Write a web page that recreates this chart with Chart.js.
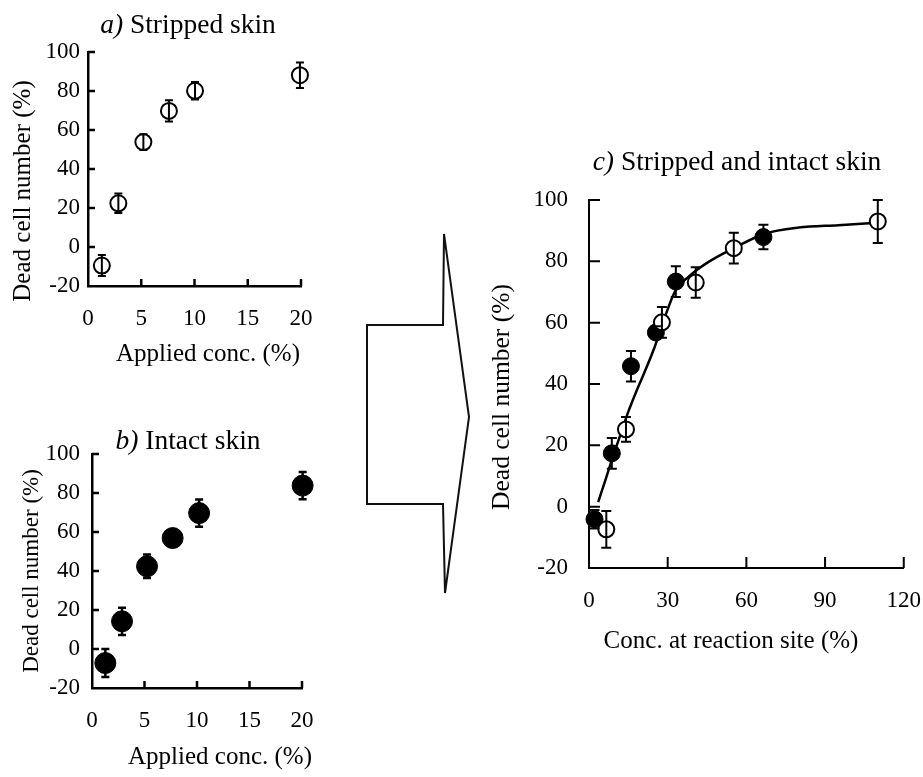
<!DOCTYPE html>
<html>
<head>
<meta charset="utf-8">
<title>Dead cell number vs concentration</title>
<script src="https://cdn.jsdelivr.net/npm/chart.js@4.4.0/dist/chart.umd.min.js"></script>
<style>
  html, body { margin: 0; padding: 0; background: #fff; }
  #page { position: relative; width: 923px; height: 777px; overflow: hidden; background: #fff; }
  #page canvas { position: absolute; }
  #arrow { position: absolute; left: 0; top: 0; }
</style>
</head>
<body>
<div id="page">
  <canvas id="chartA" width="340" height="390" style="left:0px;top:0px"></canvas>
  <canvas id="chartB" width="340" height="387" style="left:0px;top:390px"></canvas>
  <canvas id="chartC" width="460" height="560" style="left:480px;top:140px"></canvas>
  <svg id="arrow" width="923" height="777">
    <polygon points="367,325 443,325 444,234 469,417 445,593 443,504 367,504"
             fill="none" stroke="#111" stroke-width="2" stroke-linejoin="miter"/>
  </svg>
</div>
<script>
// ---- a) stripped skin: applied concentration (%) vs dead cell number (%) ----
const strippedApplied = [1.3, 2.85, 5.2, 7.6, 10.05, 19.9];
const strippedDead    = [-9.5, 22.4, 53.8, 69.8, 80.1, 88.1];
const strippedDeadErr = [5.4, 5, 4, 5.5, 4.5, 6.5];

// ---- b) intact skin ----
const intactApplied = [1.27, 2.86, 5.24, 7.68, 10.2, 20.06];
const intactDead    = [-7.2, 14.2, 42.4, 56.9, 69.7, 83.8];
const intactDeadErr = [7.2, 7, 6, 2, 7, 7];

// ---- c) both, against concentration at the reaction site (%) ----
const intactSite      = [2.1, 8.7, 16.0, 25.5, 33.1, 66.5];
const intactSiteDead  = [-4.1, 17.4, 45.8, 56.8, 73.4, 87.9];
const intactSiteErr   = [3, 5, 5, 2, 5, 4];
const strippedSite     = [6.6, 14.1, 27.8, 40.7, 55.2, 110.1];
const strippedSiteDead = [-7.4, 25.2, 60.1, 73.1, 84.3, 93.0];
const strippedSiteErr  = [6, 4, 5, 5, 5, 7];

// fitted curve through the pooled data
const fitSite = [3.5, 6, 9, 12, 15, 18, 21, 25, 29, 33, 38, 45, 55, 67, 80, 95, 110];
const fitDead = [1.5, 8, 16, 23.5, 31, 37.5, 43.5, 52, 62, 70.5, 75, 79.5, 84.2, 89, 91, 91.8, 92.6];

// axis ticks
const appliedTicks = [0, 5, 10, 15, 20];
const siteTicks    = [0, 30, 60, 90, 120];
const deadTicks    = [-20, 0, 20, 40, 60, 80, 100];

const SERIF = '"Liberation Serif", "Times New Roman", serif';
Chart.defaults.font.family = SERIF;
Chart.defaults.color = '#000';

const pts = (xs, ys) => xs.map((x, i) => ({ x, y: ys[i] }));

// vertical error bars with caps, drawn on top of the markers
const errorBarPlugin = {
  id: 'errorBars',
  afterDatasetsDraw(chart, args, opts) {
    const { ctx } = chart;
    const xs = chart.scales.x, ys = chart.scales.y;
    ctx.save();
    ctx.strokeStyle = '#000';
    ctx.lineWidth = opts.lineWidth || 2;
    chart.data.datasets.forEach(ds => {
      if (!ds.errors) return;
      ds.data.forEach((p, j) => {
        const e = ds.errors[j];
        const px = xs.getPixelForValue(p.x);
        const top = ys.getPixelForValue(p.y + e);
        const bot = ys.getPixelForValue(p.y - e);
        const c = opts.cap || 4;
        ctx.beginPath();
        ctx.moveTo(px, top); ctx.lineTo(px, bot);
        ctx.moveTo(px - c, top); ctx.lineTo(px + c, top);
        ctx.moveTo(px - c, bot); ctx.lineTo(px + c, bot);
        ctx.stroke();
      });
    });
    ctx.restore();
  }
};

// tick marks pointing into the plot area
const innerTickPlugin = {
  id: 'innerTicks',
  afterDraw(chart, args, opts) {
    const { ctx, chartArea: a } = chart;
    const xs = chart.scales.x, ys = chart.scales.y;
    ctx.save();
    ctx.strokeStyle = '#000';
    ctx.lineWidth = opts.width || 2;
    ctx.beginPath();
    xs.ticks.forEach(t => {
      if (t.value === xs.min) return;
      const px = xs.getPixelForValue(t.value);
      ctx.moveTo(px, a.bottom); ctx.lineTo(px, a.bottom - opts.len);
    });
    ys.ticks.forEach(t => {
      if (t.value === ys.min) return;
      const py = ys.getPixelForValue(t.value);
      ctx.moveTo(a.left, py); ctx.lineTo(a.left + opts.len, py);
    });
    ctx.stroke();
    ctx.restore();
  }
};

// panel heading (italic letter + plain text) and the two axis titles
const panelTextPlugin = {
  id: 'panelText',
  afterDraw(chart, args, o) {
    const { ctx } = chart;
    ctx.save();
    ctx.fillStyle = '#000';
    ctx.textBaseline = 'alphabetic';
    const t = o.title;
    ctx.font = `italic ${t.size}px ${SERIF}`;
    const w1 = ctx.measureText(t.prefix).width;
    ctx.font = `${t.size}px ${SERIF}`;
    const w2 = ctx.measureText(t.rest).width;
    let sx = t.x - (w1 + w2) / 2;
    ctx.textAlign = 'left';
    ctx.font = `italic ${t.size}px ${SERIF}`;
    ctx.fillText(t.prefix, sx, t.y);
    ctx.font = `${t.size}px ${SERIF}`;
    ctx.fillText(t.rest, sx + w1, t.y);

    const xt = o.xTitle;
    ctx.textAlign = 'center';
    ctx.font = `${xt.size}px ${SERIF}`;
    ctx.fillText(xt.text, xt.x, xt.y);

    const yt = o.yTitle;
    ctx.translate(yt.x, yt.y);
    ctx.rotate(-Math.PI / 2);
    ctx.textBaseline = 'middle';
    ctx.font = `${yt.size}px ${SERIF}`;
    ctx.fillText(yt.text, 0, 0);
    ctx.restore();
  }
};

function panel(id, p) {
  const canvas = document.getElementById(id);
  const W = canvas.width, H = canvas.height;
  return new Chart(canvas, {
    type: 'scatter',
    data: { datasets: p.datasets },
    options: {
      responsive: false,
      animation: false,
      devicePixelRatio: 1,
      layout: { padding: { top: p.area.top, right: W - p.area.right, left: 0, bottom: 0 } },
      plugins: {
        legend: { display: false },
        tooltip: { enabled: false },
        title: { display: false },
        panelText: p.text,
        errorBars: { lineWidth: p.barWidth, cap: p.cap },
        innerTicks: { len: p.tickLen, width: p.axisWidth }
      },
      scales: {
        x: {
          type: 'linear',
          min: p.xTicks[0], max: p.xTicks[p.xTicks.length - 1],
          afterBuildTicks: s => { s.ticks = p.xTicks.map(v => ({ value: v })); },
          ticks: { font: { size: 23 }, color: '#000', padding: p.xPad, maxRotation: 0, autoSkip: false },
          grid: { display: false, drawTicks: false },
          border: { display: true, color: '#000', width: p.axisWidth },
          afterFit: s => { s.height = H - p.area.bottom; }
        },
        y: {
          type: 'linear',
          min: deadTicks[0], max: deadTicks[deadTicks.length - 1],
          afterBuildTicks: s => { s.ticks = deadTicks.map(v => ({ value: v })); },
          ticks: { font: { size: 23 }, color: '#000', padding: p.yPad, autoSkip: false },
          grid: { display: false, drawTicks: false },
          border: { display: true, color: '#000', width: p.axisWidth },
          afterFit: s => { s.width = p.area.left; }
        }
      }
    },
    plugins: [innerTickPlugin, errorBarPlugin, panelTextPlugin]
  });
}

const openMarker = r => ({
  pointStyle: 'circle', pointRadius: r, pointHoverRadius: r, clip: false,
  pointBackgroundColor: '#fff', pointBorderColor: '#000', pointBorderWidth: 2, showLine: false
});
const filledMarker = r => ({
  pointStyle: 'circle', pointRadius: r, pointHoverRadius: r, clip: false,
  pointBackgroundColor: '#000', pointBorderColor: '#000', pointBorderWidth: 1, showLine: false
});

panel('chartA', {
  area: { left: 88, top: 52, right: 301, bottom: 286 },
  xTicks: appliedTicks, xPad: 19, yPad: 8,
  axisWidth: 2.5, tickLen: 7, barWidth: 2, cap: 4,
  text: {
    title: { prefix: 'a)', rest: ' Stripped skin', x: 188, y: 33, size: 27.5 },
    xTitle: { text: 'Applied conc. (%)', x: 208, y: 361, size: 25 },
    yTitle: { text: 'Dead cell number (%)', x: 23, y: 191, size: 25 }
  },
  datasets: [
    Object.assign({ label: 'Stripped skin', data: pts(strippedApplied, strippedDead), errors: strippedDeadErr }, openMarker(8))
  ]
});

panel('chartB', {
  area: { left: 92, top: 64, right: 302, bottom: 298 },
  xTicks: appliedTicks, xPad: 19, yPad: 12,
  axisWidth: 2.5, tickLen: 7, barWidth: 2.5, cap: 4,
  text: {
    title: { prefix: 'b)', rest: ' Intact skin', x: 188, y: 59, size: 27.5 },
    xTitle: { text: 'Applied conc. (%)', x: 220, y: 374, size: 25 },
    yTitle: { text: 'Dead cell number (%)', x: 32, y: 181, size: 23 }
  },
  datasets: [
    Object.assign({ label: 'Intact skin', data: pts(intactApplied, intactDead), errors: intactDeadErr }, filledMarker(10.5))
  ]
});

panel('chartC', {
  area: { left: 109, top: 60, right: 426, bottom: 428 },
  xTicks: siteTicks, xPad: 19, yPad: 21,
  axisWidth: 2, tickLen: 11, barWidth: 2, cap: 5,
  text: {
    title: { prefix: 'c)', rest: ' Stripped and intact skin', x: 257, y: 30, size: 27.5 },
    xTitle: { text: 'Conc. at reaction site (%)', x: 251, y: 508, size: 25 },
    yTitle: { text: 'Dead cell number (%)', x: 22, y: 257, size: 25.5 }
  },
  datasets: [
    Object.assign({ label: 'Stripped skin', data: pts(strippedSite, strippedSiteDead), errors: strippedSiteErr, order: 1 }, openMarker(8)),
    Object.assign({ label: 'Intact skin', data: pts(intactSite, intactSiteDead), errors: intactSiteErr, order: 2 }, filledMarker(8.5)),
    {
      label: 'Fit', type: 'line', data: pts(fitSite, fitDead), order: 3,
      borderColor: '#000', borderWidth: 2.5, pointRadius: 0, fill: false,
      cubicInterpolationMode: 'monotone', showLine: true
    }
  ]
});
</script>
</body>
</html>
